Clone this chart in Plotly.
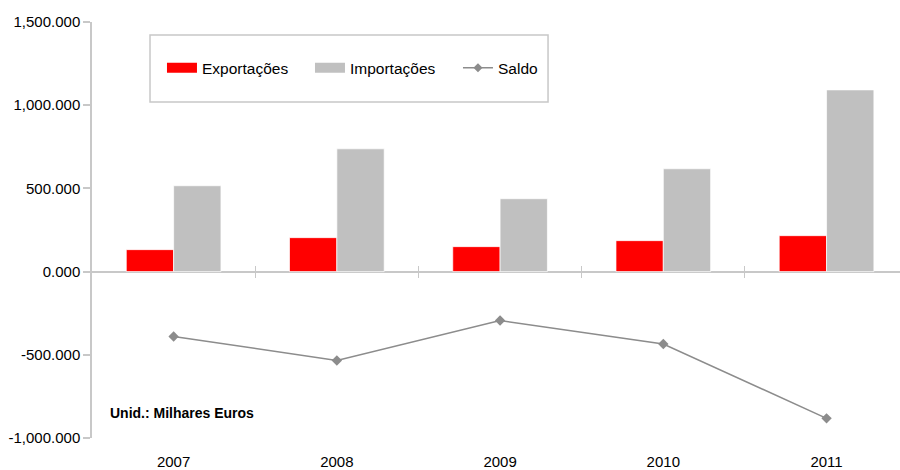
import plotly.graph_objects as go

years = ["2007", "2008", "2009", "2010", "2011"]
exportacoes = [132, 204, 150, 186, 216]
importacoes = [516, 738, 438, 618, 1092]
saldo = [-390, -534, -294, -435, -882]

y_ticks = [-1000, -500, 0, 500, 1000, 1500]
y_ticktext = [f"{v:,.3f}" for v in y_ticks]
boundaries = [0.5, 1.5, 2.5, 3.5]

FONT = "Liberation Sans, Arial, Helvetica, sans-serif"
AXC = "#C8C8C8"
RED = "#FF0000"
GREY = "#C0C0C0"
SALDO_C = "#8C8C8C"
XRANGE = [-0.5, 4.45]

fig = go.Figure()
fig.add_trace(go.Bar(x=years, y=exportacoes, name="Exportações", showlegend=False,
                     marker=dict(color=RED, line=dict(color="rgba(255,255,255,0.7)", width=1))))
fig.add_trace(go.Bar(x=years, y=importacoes, name="Importações", showlegend=False,
                     marker=dict(color=GREY, line=dict(color="rgba(255,255,255,0.7)", width=1))))
fig.add_trace(go.Scatter(x=years, y=saldo, name="Saldo", mode="lines+markers", showlegend=False,
                         line=dict(color=SALDO_C, width=1.5),
                         marker=dict(symbol="diamond", size=8, color=SALDO_C)))
# legend entries (wide rectangular swatches like the original)
fig.add_trace(go.Scatter(x=[None], y=[None], name="Exportações", mode="lines",
                         line=dict(color=RED, width=10), hoverinfo="skip"))
fig.add_trace(go.Scatter(x=[None], y=[None], name="Importações", mode="lines",
                         line=dict(color=GREY, width=10), hoverinfo="skip"))
fig.add_trace(go.Scatter(x=[None], y=[None], name="Saldo", mode="lines+markers",
                         line=dict(color=SALDO_C, width=1.5),
                         marker=dict(symbol="diamond", size=7, color=SALDO_C), hoverinfo="skip"))
# crossing tick marks on the zero line (category boundaries)
for ax in ("x2", "x3"):
    fig.add_trace(go.Scatter(x=[None], y=[None], xaxis=ax, showlegend=False, hoverinfo="skip"))

fig.update_layout(
    width=900, height=470,
    margin=dict(l=92, r=0, t=22, b=32),
    paper_bgcolor="white", plot_bgcolor="white",
    font=dict(family=FONT, size=15, color="black"),
    barmode="group", bargap=0.42, bargroupgap=0,
    showlegend=True,
    legend=dict(orientation="h", x=0.0866, y=0.889, xanchor="left", yanchor="middle",
                bgcolor="rgba(0,0,0,0)", borderwidth=0, entrywidth=103,
                font=dict(family=FONT, size=15.5, color="black")),
    xaxis=dict(type="category", range=XRANGE, showline=False, showgrid=False,
               zeroline=False, ticks="outside", ticklen=10, tickcolor="rgba(0,0,0,0)",
               tickfont=dict(family=FONT, size=15, color="black")),
    xaxis2=dict(overlaying="x", anchor="free", position=0.4, range=XRANGE,
                tickvals=boundaries, ticks="outside", ticklen=5, tickcolor=AXC, tickwidth=1,
                showticklabels=False, showline=False, showgrid=False, zeroline=False),
    xaxis3=dict(overlaying="x", anchor="free", position=0.4, range=XRANGE,
                tickvals=boundaries, ticks="inside", ticklen=6, tickcolor=AXC, tickwidth=1,
                showticklabels=False, showline=False, showgrid=False, zeroline=False),
    yaxis=dict(range=[-1000, 1500], tickvals=y_ticks, ticktext=y_ticktext,
               showline=True, linecolor=AXC, linewidth=1.5, ticks="outside", ticklen=7,
               tickcolor=AXC, tickwidth=1.5, showgrid=False,
               zeroline=True, zerolinecolor=AXC, zerolinewidth=1.5,
               tickfont=dict(family=FONT, size=15, color="black")),
    shapes=[dict(type="rect", xref="paper", yref="paper", x0=0.0718, x1=0.5644,
                 y0=0.8077, y1=0.9688, line=dict(color=AXC, width=1.5), fillcolor="rgba(0,0,0,0)")],
    annotations=[dict(text="<b>Unid.: Milhares Euros</b>", xref="paper", yref="paper",
                      x=0.0198, y=0.060, xanchor="left", yanchor="middle", showarrow=False,
                      font=dict(family=FONT, size=14, color="black"))],
)

fig.write_html("out.html")
